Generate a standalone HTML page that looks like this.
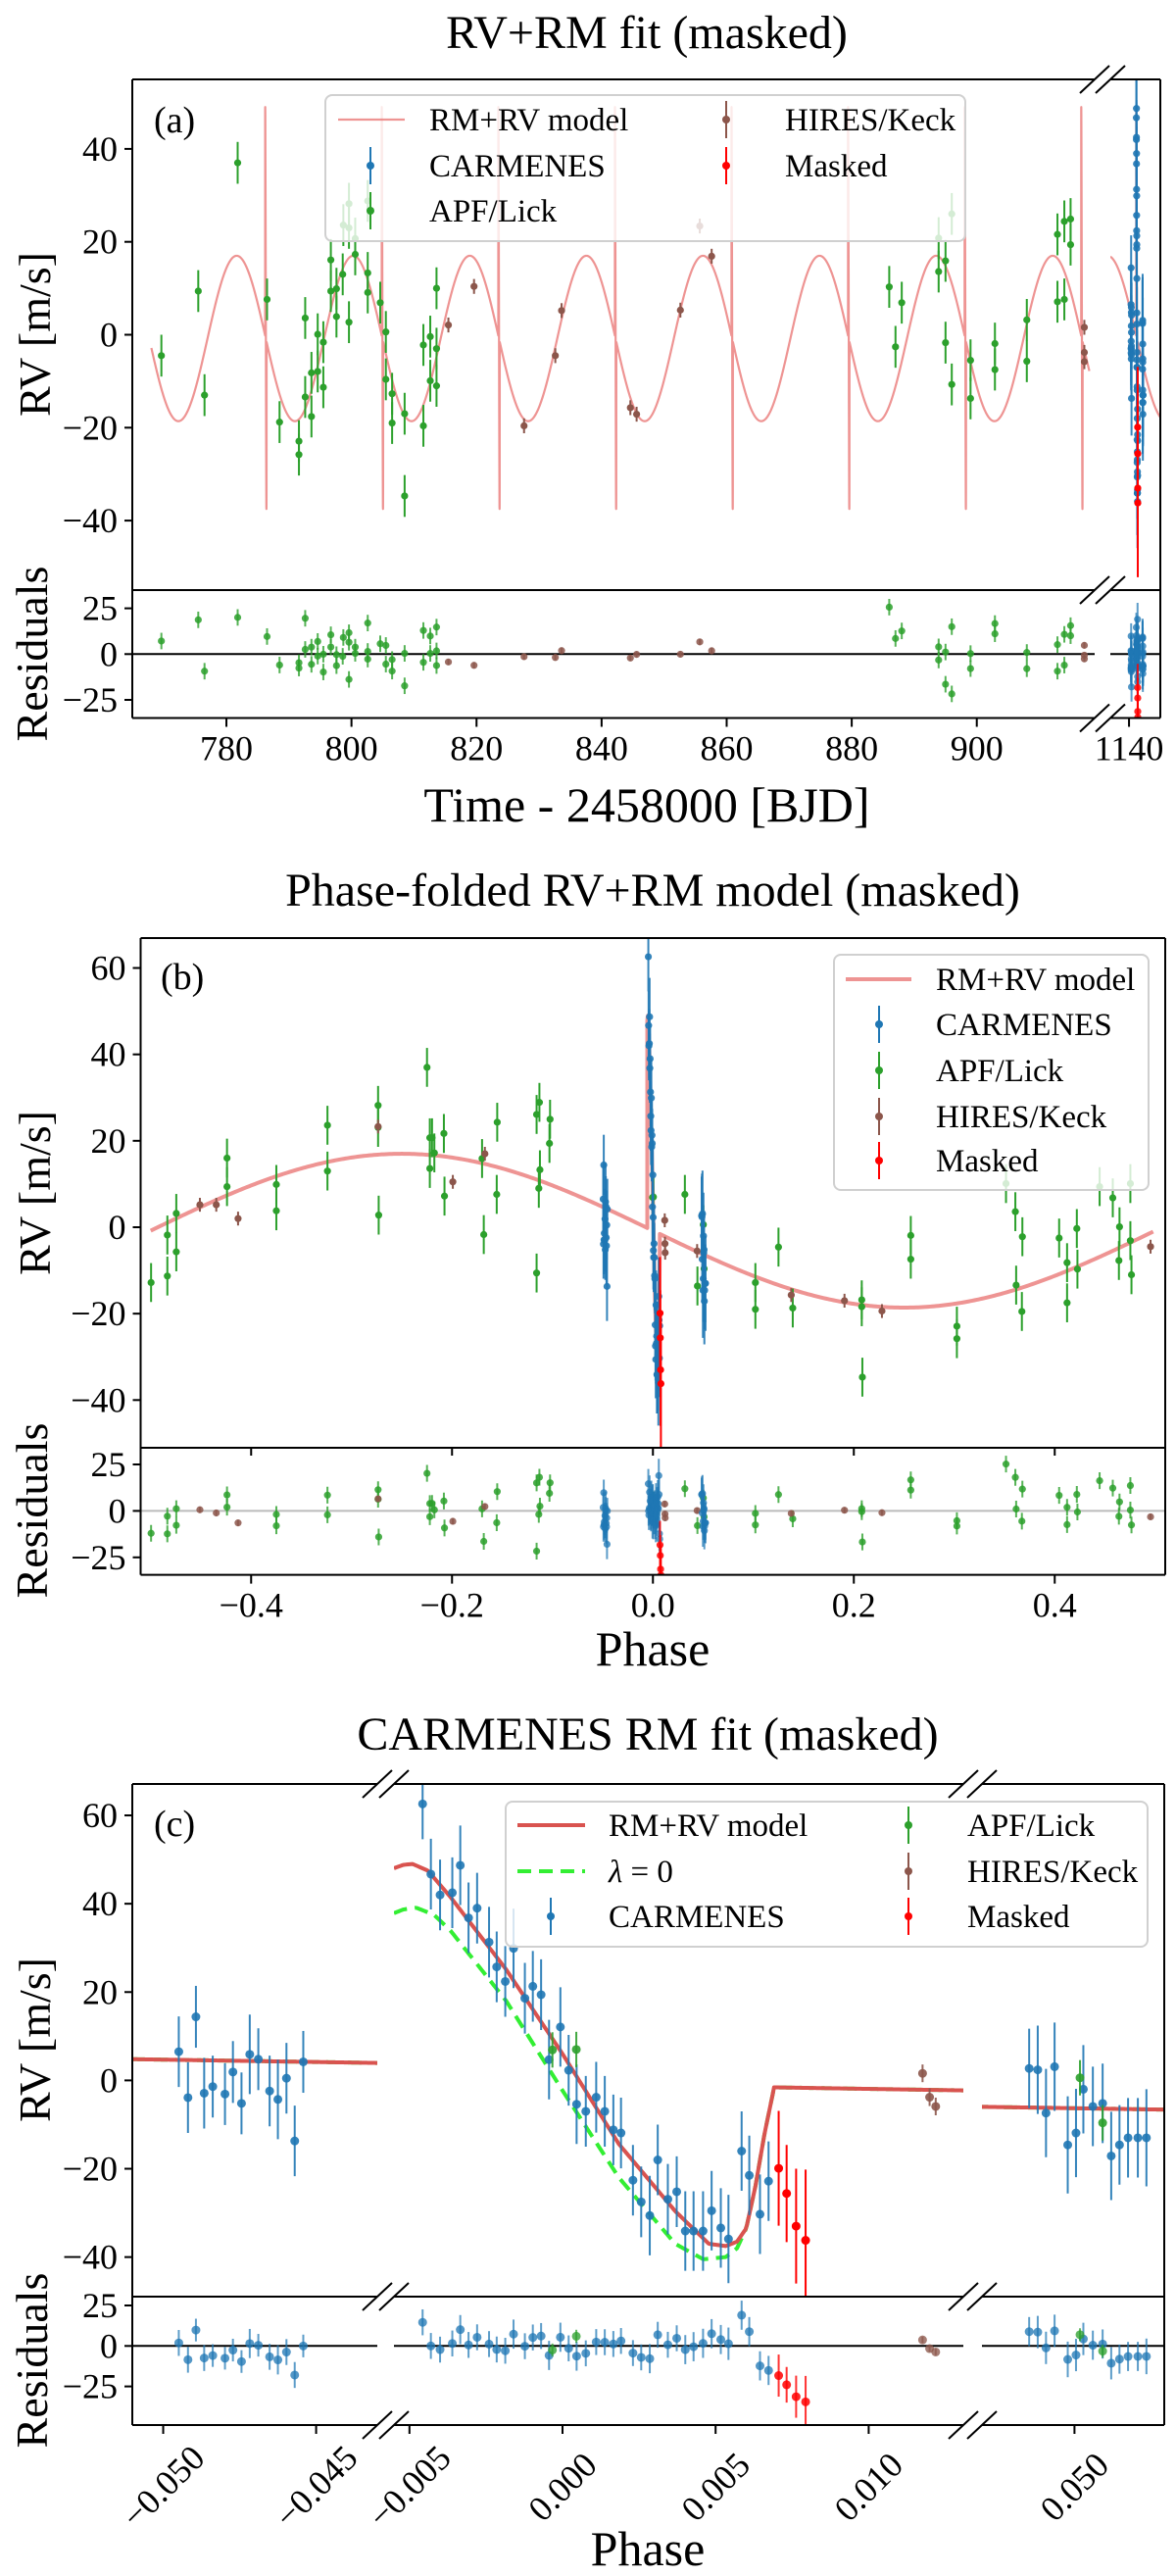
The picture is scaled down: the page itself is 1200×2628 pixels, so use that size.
<!DOCTYPE html>
<html><head><meta charset="utf-8"><title>RV+RM fit</title>
<style>
html,body{margin:0;padding:0;background:#fff;}
svg{display:block;font-family:"Liberation Serif","DejaVu Serif",serif;}
</style></head>
<body>
<svg id="fig" xmlns="http://www.w3.org/2000/svg" width="1200" height="2628" viewBox="0 0 1200 2628">
<rect x="0" y="0" width="1200" height="2628" fill="#fff"/>
<text x="660" y="49" font-size="48" text-anchor="middle">RV+RM fit (masked)</text>
<text x="666" y="924" font-size="48" text-anchor="middle">Phase-folded RV+RM model (masked)</text>
<text x="661" y="1785" font-size="48" text-anchor="middle">CARMENES RM fit (masked)</text>
<text x="660" y="838" font-size="50" text-anchor="middle">Time - 2458000 [BJD]</text>
<text x="666" y="1699" font-size="50" text-anchor="middle">Phase</text>
<text x="661" y="2617" font-size="50" text-anchor="middle">Phase</text>
<text transform="translate(51,341) rotate(-90)" font-size="46" text-anchor="middle">RV [m/s]</text>
<text transform="translate(48,667) rotate(-90)" font-size="46" text-anchor="middle">Residuals</text>
<text transform="translate(51,1217) rotate(-90)" font-size="46" text-anchor="middle">RV [m/s]</text>
<text transform="translate(48,1541) rotate(-90)" font-size="46" text-anchor="middle">Residuals</text>
<text transform="translate(51,2081) rotate(-90)" font-size="46" text-anchor="middle">RV [m/s]</text>
<text transform="translate(48,2408) rotate(-90)" font-size="46" text-anchor="middle">Residuals</text>
<g id="layer"></g>
</svg>
<script>
// ---------- model parameters ----------
const T0 = 786.3;
const PER = 18.643;
const TC2 = 1141.25;
const KAMP = 17.8;
const GAMMA = -0.8;
// RM anomaly (full model) in phase
const rmPh = [-0.0056, -0.0052, -0.0049, -0.0044, -0.00367, -0.00184, 0, 0.00184, 0.00368, 0.00478, 0.00533, 0.0057, 0.0060, 0.0063, 0.0066, 0.0069];
const rmRV = [47.8, 48.8, 49, 47.5, 41.6, 25.1, 6, -14.4, -29.6, -37, -37.5, -36.5, -33.5, -24, -12, -2];
// lambda = 0 model
const lamPh = [-0.0056, -0.0052, -0.00478, -0.0042, -0.00367, -0.00184, 0, 0.00184, 0.00368, 0.0046, 0.00533, 0.0057, 0.0060, 0.0063, 0.0066, 0.0069];
const lamRV = [37.6, 38.7, 39.1, 37.5, 34, 18, -2.3, -22, -37, -40.5, -40, -38, -33.5, -24, -12, -2];

// ---------- panel (a) data: time series ----------
const apfT = [769.6,775.5,776.5,781.8,786.5,788.5,791.6,791.6,792.6,792.6,793.6,793.6,794.6,794.6,795.5,795.5,796.7,796.7,797.6,797.6,798.6,799.6,800.6,802.6,802.6,804.6,805.5,805.5,806.5,806.5,808.5,808.5,811.5,811.5,812.6,812.6,813.6,813.6,813.6,798.7,799.6,799.6,802.6,800.6,886.0,887.0,888.0,893.9,893.9,895.0,895.0,896.0,896.0,899.0,899.0,902.9,902.9,908.0,908.0,912.9,914.0,915.0,915.0,912.9,914.0];
const apfRV = [-4.5,9.4,-13,37,7.6,-18.8,-25.8,-22.9,-13.4,3.6,-8.2,-17.6,0.1,-7.9,-1.6,-11.3,16.1,9.4,9.9,3.9,13,2.7,17.3,13.3,9.1,6.9,0.6,-9.6,-12.7,-19,-17,-34.7,-2.2,-19.6,-0.4,-9.9,10,-3,-11,23.6,28.2,23.0,28.8,20.7,10.3,-2.6,6.9,20.8,13.6,15.9,-1.7,-10.7,26,-5.5,-13.7,-1.9,-7.5,3.2,-5.7,21.6,24.4,24.9,19.4,7.1,7.6];
const hirT = [815.5,819.6,827.6,832.6,833.6,844.6,845.6,852.6,857.6,855.7,917.2,917.2,917.2];
const hirRV = [2.1,10.4,-19.6,-4.5,5.2,-15.7,-17.1,5.3,16.9,23.4,1.6,-3.8,-5.8];

// ---------- panel (b)/(c) data: phase-folded ----------
const apfPh = [-0.4996,-0.4834,-0.4834,-0.4745,-0.4745,-0.424,-0.424,-0.3749,-0.3749,-0.324,-0.324,-0.2736,-0.2736,-0.273,-0.2249,-0.2221,-0.2199,-0.2221,-0.2176,-0.2081,-0.2075,-0.1701,-0.1684,-0.155,-0.1555,-0.1158,-0.113,-0.1125,-0.1136,-0.1158,-0.1024,-0.103,-0.00033,0.00045,0.0318,0.0443,0.05018,0.05092,0.102,0.102,0.125,0.1392,0.2079,0.2079,0.2085,0.2567,0.2567,0.3026,0.3026,0.3515,0.3608,0.3678,0.3616,0.3673,0.4044,0.4123,0.4123,0.422,0.4226,0.4447,0.4578,0.4645,0.4639,0.4753,0.4753,0.4764];
const apfPhRV = [-12.8,-1.8,-11.3,3.2,-5.7,9.4,16,9.9,3.8,23.6,13.0,28.2,23.1,2.8,37,20.7,20.7,13.6,17.2,21.7,7.2,15.9,-1.7,24.3,7.6,26.1,28.9,13.3,9.0,-10.6,25.0,19.4,6.9,7.0,7.6,-13.6,0.6,-9.6,-12.8,-19,-4.6,-18.7,-16.8,-18.4,-34.7,-1.9,-7.4,-22.9,-25.8,10.1,3.6,-2.2,-13.4,-19.5,-2.5,-8.2,-17.5,-0.3,-9.7,9.4,6.8,0.1,-7.7,10.1,-3.1,-11];
const hirPh = [-0.451,-0.4347,-0.413,-0.2736,-0.1992,-0.1673,0.01176,0.01199,0.01219,0.044,0.1377,0.1907,0.228,0.4954];
const hirPhRV = [5.2,5.2,2,23.3,10.5,17,1.6,-3.8,-5.9,-5.5,-15.7,-17,-19.4,-4.5];
const carPh = [-0.04949,-0.04919,-0.04893,-0.04866,-0.04838,-0.04798,-0.04772,-0.04744,-0.04717,-0.04689,-0.04652,-0.04625,-0.04597,-0.0457,-0.04542,
 -0.00457,-0.0043,-0.004,-0.0036,-0.00334,-0.00307,-0.00279,-0.0024,-0.00215,-0.00187,-0.0016,-0.00123,-0.00097,-0.0007,-0.00044,-0.00007,0.0002,0.00046,0.00076,0.0011,0.00138,0.00166,0.00191,0.0023,0.00257,0.00285,0.00311,0.00344,0.00373,0.00401,0.00428,0.00459,0.00487,0.00517,0.00542,0.00585,0.0061,0.00645,0.00673,
 0.04852,0.0488,0.04907,0.04935,0.04978,0.05005,0.05029,0.0506,0.05092,0.0512,0.05147,0.05175,0.05207,0.05235];
const carRV = [6.5,-3.9,14.4,-2.9,-1.4,-3.1,1.9,-5.2,5.9,4.8,-2.4,-4.3,0.5,-13.7,4.2,
 62.6,46.7,42,42.5,48.7,36.8,39,31.3,25.7,22.4,29.9,18.6,21.3,19.4,4.7,12.1,2.3,-5.4,-7.0,-3.8,-7.0,-11.2,-11.9,-22.6,-27.5,-30.6,-18,-26.9,-25.2,-34.1,-34.1,-34.1,-29.5,-33.4,-35.9,-16,-21.5,-30.3,-22.8,
 2.7,2.4,-7.4,3.1,-14.6,-11.9,-2,-5.9,-5.2,-17.1,-14.6,-13,-13,-13];
const carErr = [8,8,7,8,7,7,7,7,9,7,8,9,8,8,7,
 8,8,8,8,9,8,8,8,8,8,9,8,8,8,9,9,8,9,8,8,8,8,8,8,8,9,8,8,8,9,9,9,9,9,10,9,9,9,9,
 9,10,10,10,11,10,10,9,9,10,9,9,9,11];
const mskPh = [0.00706,0.00732,0.00763,0.00794];
const mskRV = [-19.9,-25.6,-33,-36.2];
const mskErr = [13,11,13,16];

// ---------- helpers ----------
const NS = 'http://www.w3.org/2000/svg';
const layer = document.getElementById('layer');
const COL = {car:'#1f77b4', apf:'#2ca02c', hir:'#8c564b', msk:'#ff0000'};
function mk(tag, attrs, parent){
  const el = document.createElementNS(NS, tag);
  for (const k in attrs) el.setAttribute(k, attrs[k]);
  (parent || layer).appendChild(el);
  return el;
}
function interp(xs, ys, x){
  for (let i = 0; i < xs.length - 1; i++){
    if (x >= xs[i] && x <= xs[i+1]) return ys[i] + (ys[i+1]-ys[i])*(x-xs[i])/(xs[i+1]-xs[i]);
  }
  return ys[ys.length-1];
}
function sineModel(ph){ return GAMMA - KAMP*Math.sin(2*Math.PI*ph); }
function model(ph){ if (ph >= rmPh[0] && ph <= rmPh[rmPh.length-1]) return interp(rmPh, rmRV, ph); return sineModel(ph); }
function lamModel(ph){ if (ph >= lamPh[0] && ph <= lamPh[lamPh.length-1]) return interp(lamPh, lamRV, ph); return sineModel(ph); }
function phaseOf(t){ let p = (t > 1000 ? (t - TC2) : (t - T0)) / PER; return p - Math.round(p); }
function Seg(d0, d1, p0, p1){ return {d0:d0, d1:d1, p0:p0, p1:p1, f: v => p0 + (v-d0)*(p1-p0)/(d1-d0)}; }
function fmt(v, dec){ const s = Math.abs(v).toFixed(dec); return (v < 0 ? '\u2212' : '') + s; }

let clipId = 0;
function clipRect(x, y, w, h){
  const c = mk('clipPath', {id: 'cp' + (++clipId)});
  mk('rect', {x: x, y: y, width: w, height: h}, c);
  return 'url(#cp' + clipId + ')';
}

function drawPanel(P){
  const g = mk('g', {});
  
  
  P.segs.forEach((s, i) => {
    s.clipM = clipRect(s.p0, P.top, s.p1 - s.p0, P.mid - P.top);
    s.clipR = clipRect(s.p0, P.mid, s.p1 - s.p0, P.bot - P.mid);
    s.gM = mk('g', {'clip-path': s.clipM}, g);
    
    
    s.gR = mk('g', {'clip-path': s.clipR}, g);
    
    
  });
  P.segs.forEach(s => {
    const z = mk('line', {x1: s.p0, x2: s.p1, y1: P.yr(0), y2: P.yr(0), stroke: P.zeroCol, 'stroke-width': P.zeroW}, s.gR);
    
    
  });
  P.g = g;
  return g;
}

function drawModel(P, fn, color, width, dash, name, samplesPerSeg){
  P.segs.forEach(s => {
    const xs = samplesPerSeg(s);
    let d = '';
    xs.forEach((x, i) => { d += (i ? 'L' : 'M') + s.f(x).toFixed(2) + ' ' + P.y(fn(x)).toFixed(2); });
    const p = mk('path', {d: d, fill: 'none', stroke: color, 'stroke-width': width, 'stroke-opacity': P.modelOpacity || 1, 'stroke-linejoin': 'round'}, s.gM);
    if (dash) p.setAttribute('stroke-dasharray', dash);
    
    
  });
}

function drawPoints(P, xs, ys, errs, resids, color, name, r, alpha){
  xs.forEach((x, i) => {
    const s = P.segs.find(sg => x >= sg.d0 && x <= sg.d1);
    if (!s) return;
    const px = s.f(x);
    const py = P.y(ys[i]);
    const e = errs[i];
    const g1 = mk('g', {}, s.gM);
    
    
    mk('line', {x1: px, x2: px, y1: P.y(ys[i] + e), y2: P.y(ys[i] - e), stroke: color, 'stroke-width': 2, 'stroke-opacity': alpha}, g1);
    mk('circle', {cx: px, cy: py, r: r, fill: color, 'fill-opacity': alpha}, g1);
    const g2 = mk('g', {}, s.gR);
    
    
    const ry = P.yr(resids[i]);
    mk('line', {x1: px, x2: px, y1: P.yr(resids[i] + e), y2: P.yr(resids[i] - e), stroke: color, 'stroke-width': 2, 'stroke-opacity': alpha * 0.8}, g2);
    mk('circle', {cx: px, cy: ry, r: r, fill: color, 'fill-opacity': alpha * 0.85}, g2);
  });
}

function drawFrame(P){
  const g = mk('g', {});
  
  
  const n = P.segs.length;
  P.segs.forEach((s, i) => {
    [P.top, P.mid, P.bot].forEach(y => mk('line', {x1: s.p0, x2: s.p1, y1: y, y2: y, stroke: '#000', 'stroke-width': 2}, g));
    if (i === 0) mk('line', {x1: s.p0, x2: s.p0, y1: P.top, y2: P.bot, stroke: '#000', 'stroke-width': 2}, g);
    if (i === n - 1) mk('line', {x1: s.p1, x2: s.p1, y1: P.top, y2: P.bot, stroke: '#000', 'stroke-width': 2}, g);
    if (i < n - 1){
      const nx = P.segs[i+1];
      [P.top, P.mid, P.bot].forEach(y => {
        [s.p1, nx.p0].forEach(cx => {
          const b = mk('line', {x1: cx - 15, y1: y + 14, x2: cx + 15, y2: y - 14, stroke: '#000', 'stroke-width': 2}, g);
          
          
        });
      });
    }
  });
  const s0 = P.segs[0];
  P.yTicks.forEach(v => {
    const y = P.y(v);
    mk('line', {x1: s0.p0 - 8, x2: s0.p0, y1: y, y2: y, stroke: '#000', 'stroke-width': 2}, g);
    const t = mk('text', {x: s0.p0 - 15, y: y + 12, 'font-size': 36, 'text-anchor': 'end'}, g);
    t.textContent = fmt(v, 0);
    
    
  });
  P.rTicks.forEach(v => {
    const y = P.yr(v);
    mk('line', {x1: s0.p0 - 8, x2: s0.p0, y1: y, y2: y, stroke: '#000', 'stroke-width': 2}, g);
    const t = mk('text', {x: s0.p0 - 15, y: y + 12, 'font-size': 36, 'text-anchor': 'end'}, g);
    t.textContent = fmt(v, 0);
    
    
  });
  P.xTicks.forEach(v => {
    const s = P.segs.find(sg => v >= sg.d0 && v <= sg.d1);
    if (!s) return;
    const x = s.f(v);
    mk('line', {x1: x, x2: x, y1: P.bot, y2: P.bot + 9, stroke: '#000', 'stroke-width': 2}, g);
    if (P.midTicks) mk('line', {x1: x, x2: x, y1: P.mid, y2: P.mid + 8, stroke: '#000', 'stroke-width': 2}, g);
    let t;
    if (P.rotLabels){
      const cy = P.bot + 63;
      t = mk('text', {x: x, y: cy + 12, 'font-size': 36, 'text-anchor': 'middle', transform: 'rotate(-45 ' + x + ' ' + cy + ')'}, g);
    } else {
      t = mk('text', {x: x, y: P.bot + 43, 'font-size': 36, 'text-anchor': 'middle'}, g);
    }
    t.textContent = P.xFmt(v);
    
    
  });
}

function legendBox(x, y, w, h, name){
  const r = mk('rect', {x: x, y: y, width: w, height: h, rx: 7, fill: '#fff', 'fill-opacity': 0.8, stroke: '#d0d0d0', 'stroke-width': 2});
  
  
}
function legText(x, y, str, name){
  const t = mk('text', {x: x, y: y + 11, 'font-size': 33});
  t.textContent = str;
  
  
  return t;
}
function legMarker(x, y, color, name){
  const g = mk('g', {});
  
  
  mk('line', {x1: x, x2: x, y1: y - 19, y2: y + 19, stroke: color, 'stroke-width': 2}, g);
  mk('circle', {cx: x, cy: y, r: 4, fill: color}, g);
}
function legLine(x1, x2, y, color, w, dash, opacity, name){
  const l = mk('line', {x1: x1, x2: x2, y1: y, y2: y, stroke: color, 'stroke-width': w, 'stroke-opacity': opacity});
  if (dash) l.setAttribute('stroke-dasharray', dash);
  
  
}
function panelLetter(x, y, s, name){
  const t = mk('text', {x: x, y: y + 13, 'font-size': 38});
  t.textContent = s;
  
  
}

// ====================== PANEL A ======================
const PA = {
  name: 'panel-a',
  segs: [Seg(764.95, 918.85, 135, 1117), Seg(1137.02, 1144.99, 1133, 1184)],
  top: 81, mid: 602, bot: 732.5,
  y: v => 341.5 - v*4.74, yr: v => 667.3 - v*1.868,
  zeroCol: '#000', zeroW: 2, modelOpacity: 0.75,
  yTicks: [-40, -20, 0, 20, 40], rTicks: [-25, 0, 25],
  xTicks: [780, 800, 820, 840, 860, 880, 900, 1140], xFmt: v => String(v)
};
drawPanel(PA);
const fnA = t => model(phaseOf(t));
drawModel(PA, fnA, '#e8706f', 2.2, null, 'rm-rv-model-line', s => {
  const xs = [];
  const a = Math.max(s.d0, 768), b = s.d1 > 1000 ? s.d1 : 918.0;
  const st = s.d1 > 1000 ? 0.02 : 0.05;
  for (let t = (s.d1 > 1000 ? s.d0 : a); t <= b; t += st) xs.push(t);
  for (let n = 0; n <= 20; n++){
    const tc = n < 19 ? T0 + n*PER : TC2;
    rmPh.forEach(p => { const t = tc + p*PER; if (t >= xs[0] && t <= b) xs.push(t); });
    [rmPh[0] - 1e-5, rmPh[rmPh.length-1] + 1e-5].forEach(p => { const t = tc + p*PER; if (t >= xs[0] && t <= b) xs.push(t); });
    if (n === 19) break;
  }
  return xs.sort((p, q) => p - q);
});
const apfResA = apfT.map((t, i) => apfRV[i] - fnA(t));
const hirResA = hirT.map((t, i) => hirRV[i] - fnA(t));
const carT = carPh.map(p => TC2 + p*PER);
const carResA = carT.map((t, i) => carRV[i] - fnA(t));
const mskT = mskPh.map(p => TC2 + p*PER);
const mskResA = mskT.map((t, i) => mskRV[i] - fnA(t));
drawPoints(PA, apfT, apfRV, apfT.map(() => 4.5), apfResA, COL.apf, 'apf-lick', 3.6, 1);
drawPoints(PA, hirT, hirRV, hirT.map(() => 1.6), hirResA, COL.hir, 'hires-keck', 3.6, 1);
drawPoints(PA, carT, carRV, carErr, carResA, COL.car, 'carmenes', 3.6, 0.9);
drawPoints(PA, mskT, mskRV, mskErr, mskResA, COL.msk, 'masked', 3.6, 1);
drawFrame(PA);
panelLetter(157, 122, '(a)', 'panel-label-a');
legendBox(332, 97, 653, 149, 'legend-a');
legLine(345, 413, 122, '#e8706f', 2.2, null, 0.75, 'legend-a-model-swatch');
legText(438, 122, 'RM+RV model', 'legend-a-model');
legMarker(378, 169, COL.car, 'legend-a-carmenes-swatch');
legText(438, 169, 'CARMENES', 'legend-a-carmenes');
legMarker(378, 215, COL.apf, 'legend-a-apf-swatch');
legText(438, 215, 'APF/Lick', 'legend-a-apf');
legMarker(741, 122, COL.hir, 'legend-a-hires-swatch');
legText(801, 122, 'HIRES/Keck', 'legend-a-hires');
legMarker(741, 169, COL.msk, 'legend-a-masked-swatch');
legText(801, 169, 'Masked', 'legend-a-masked');

// ====================== PANEL B ======================
const PB = {
  name: 'panel-b',
  segs: [Seg(-0.51, 0.51, 143.5, 1189)],
  top: 957, mid: 1477, bot: 1606.6,
  y: v => 1252 - v*4.408, yr: v => 1541.4 - v*1.896,
  zeroCol: '#bbbbbb', zeroW: 2, modelOpacity: 0.75, midTicks: true,
  yTicks: [-40, -20, 0, 20, 40, 60], rTicks: [-25, 0, 25],
  xTicks: [-0.4, -0.2, 0, 0.2, 0.4], xFmt: v => fmt(v, 1)
};
drawPanel(PB);
drawModel(PB, model, '#e8706f', 4, null, 'rm-rv-model-line', s => {
  const xs = [];
  for (let p = -0.5; p <= 0.5; p += 0.002) xs.push(p);
  rmPh.forEach(p => xs.push(p));
  xs.push(rmPh[0] - 1e-5, rmPh[rmPh.length-1] + 1e-5);
  return xs.sort((p, q) => p - q);
});
drawPoints(PB, apfPh, apfPhRV, apfPh.map(() => 4.5), apfPh.map((p, i) => apfPhRV[i] - model(p)), COL.apf, 'apf-lick', 3.6, 1);
drawPoints(PB, hirPh, hirPhRV, hirPh.map(() => 1.6), hirPh.map((p, i) => hirPhRV[i] - model(p)), COL.hir, 'hires-keck', 3.6, 1);
drawPoints(PB, carPh, carRV, carErr, carPh.map((p, i) => carRV[i] - model(p)), COL.car, 'carmenes', 3.6, 0.9);
drawPoints(PB, mskPh, mskRV, mskErr, mskPh.map((p, i) => mskRV[i] - model(p)), COL.msk, 'masked', 3.6, 1);
drawFrame(PB);
panelLetter(164, 996, '(b)', 'panel-label-b');
legendBox(851, 974, 321, 240, 'legend-b');
legLine(863, 930, 999, '#e8706f', 4, null, 0.75, 'legend-b-model-swatch');
legText(955, 999, 'RM+RV model', 'legend-b-model');
legMarker(897, 1045, COL.car, 'legend-b-carmenes-swatch');
legText(955, 1045, 'CARMENES', 'legend-b-carmenes');
legMarker(897, 1092, COL.apf, 'legend-b-apf-swatch');
legText(955, 1092, 'APF/Lick', 'legend-b-apf');
legMarker(897, 1139, COL.hir, 'legend-b-hires-swatch');
legText(955, 1139, 'HIRES/Keck', 'legend-b-hires');
legMarker(897, 1184, COL.msk, 'legend-b-masked-swatch');
legText(955, 1184, 'Masked', 'legend-b-masked');

// ====================== PANEL C ======================
const PC = {
  name: 'panel-c',
  segs: [Seg(-0.05101, -0.04300, 135, 385), Seg(-0.005506, 0.013092, 402, 983), Seg(0.046978, 0.052932, 1002, 1188)],
  top: 1820, mid: 2343, bot: 2474,
  y: v => 2122.4 - v*4.506, yr: v => 2393.3 - v*1.652,
  zeroCol: '#000', zeroW: 2, modelOpacity: 1, rotLabels: true,
  yTicks: [-40, -20, 0, 20, 40, 60], rTicks: [-25, 0, 25],
  xTicks: [-0.05, -0.045, -0.005, 0, 0.005, 0.01, 0.05], xFmt: v => fmt(v, 3)
};
drawPanel(PC);
const sampC = s => {
  const xs = [];
  const st = (s.d1 - s.d0) / 400;
  for (let p = s.d0; p <= s.d1 + 1e-9; p += st) xs.push(p);
  return xs;
};
drawModel(PC, lamModel, '#33ee33', 4, '14 8', 'lambda-zero-model-line', sampC);
drawModel(PC, model, '#d9534f', 4, null, 'rm-rv-model-line', sampC);
drawPoints(PC, carPh, carRV, carErr, carPh.map((p, i) => carRV[i] - model(p)), COL.car, 'carmenes', 4.5, 0.9);
drawPoints(PC, apfPh, apfPhRV, apfPh.map(() => 4), apfPh.map((p, i) => apfPhRV[i] - model(p)), COL.apf, 'apf-lick', 4.5, 0.9);
drawPoints(PC, hirPh, hirPhRV, hirPh.map(() => 2), hirPh.map((p, i) => hirPhRV[i] - model(p)), COL.hir, 'hires-keck', 4.5, 0.9);
drawPoints(PC, mskPh, mskRV, mskErr, mskPh.map((p, i) => mskRV[i] - model(p)), COL.msk, 'masked', 4.5, 1);
drawFrame(PC);
panelLetter(157, 1860, '(c)', 'panel-label-c');
legendBox(516, 1838, 655, 148, 'legend-c');
legLine(528, 597, 1862, '#d9534f', 4, null, 1, 'legend-c-model-swatch');
legText(621, 1862, 'RM+RV model', 'legend-c-model');
legLine(528, 597, 1909, '#33ee33', 4, '14 8', 1, 'legend-c-lambda-swatch');
const lt = legText(621, 1909, '', 'legend-c-lambda');
const ts1 = mk('tspan', {'font-style': 'italic'}, lt); ts1.textContent = '\u03bb';
const ts2 = mk('tspan', {}, lt); ts2.textContent = ' = 0';
legMarker(562, 1955, COL.car, 'legend-c-carmenes-swatch');
legText(621, 1955, 'CARMENES', 'legend-c-carmenes');
legMarker(927, 1862, COL.apf, 'legend-c-apf-swatch');
legText(987, 1862, 'APF/Lick', 'legend-c-apf');
legMarker(927, 1909, COL.hir, 'legend-c-hires-swatch');
legText(987, 1909, 'HIRES/Keck', 'legend-c-hires');
legMarker(927, 1955, COL.msk, 'legend-c-masked-swatch');
legText(987, 1955, 'Masked', 'legend-c-masked');
</script>
</body></html>
